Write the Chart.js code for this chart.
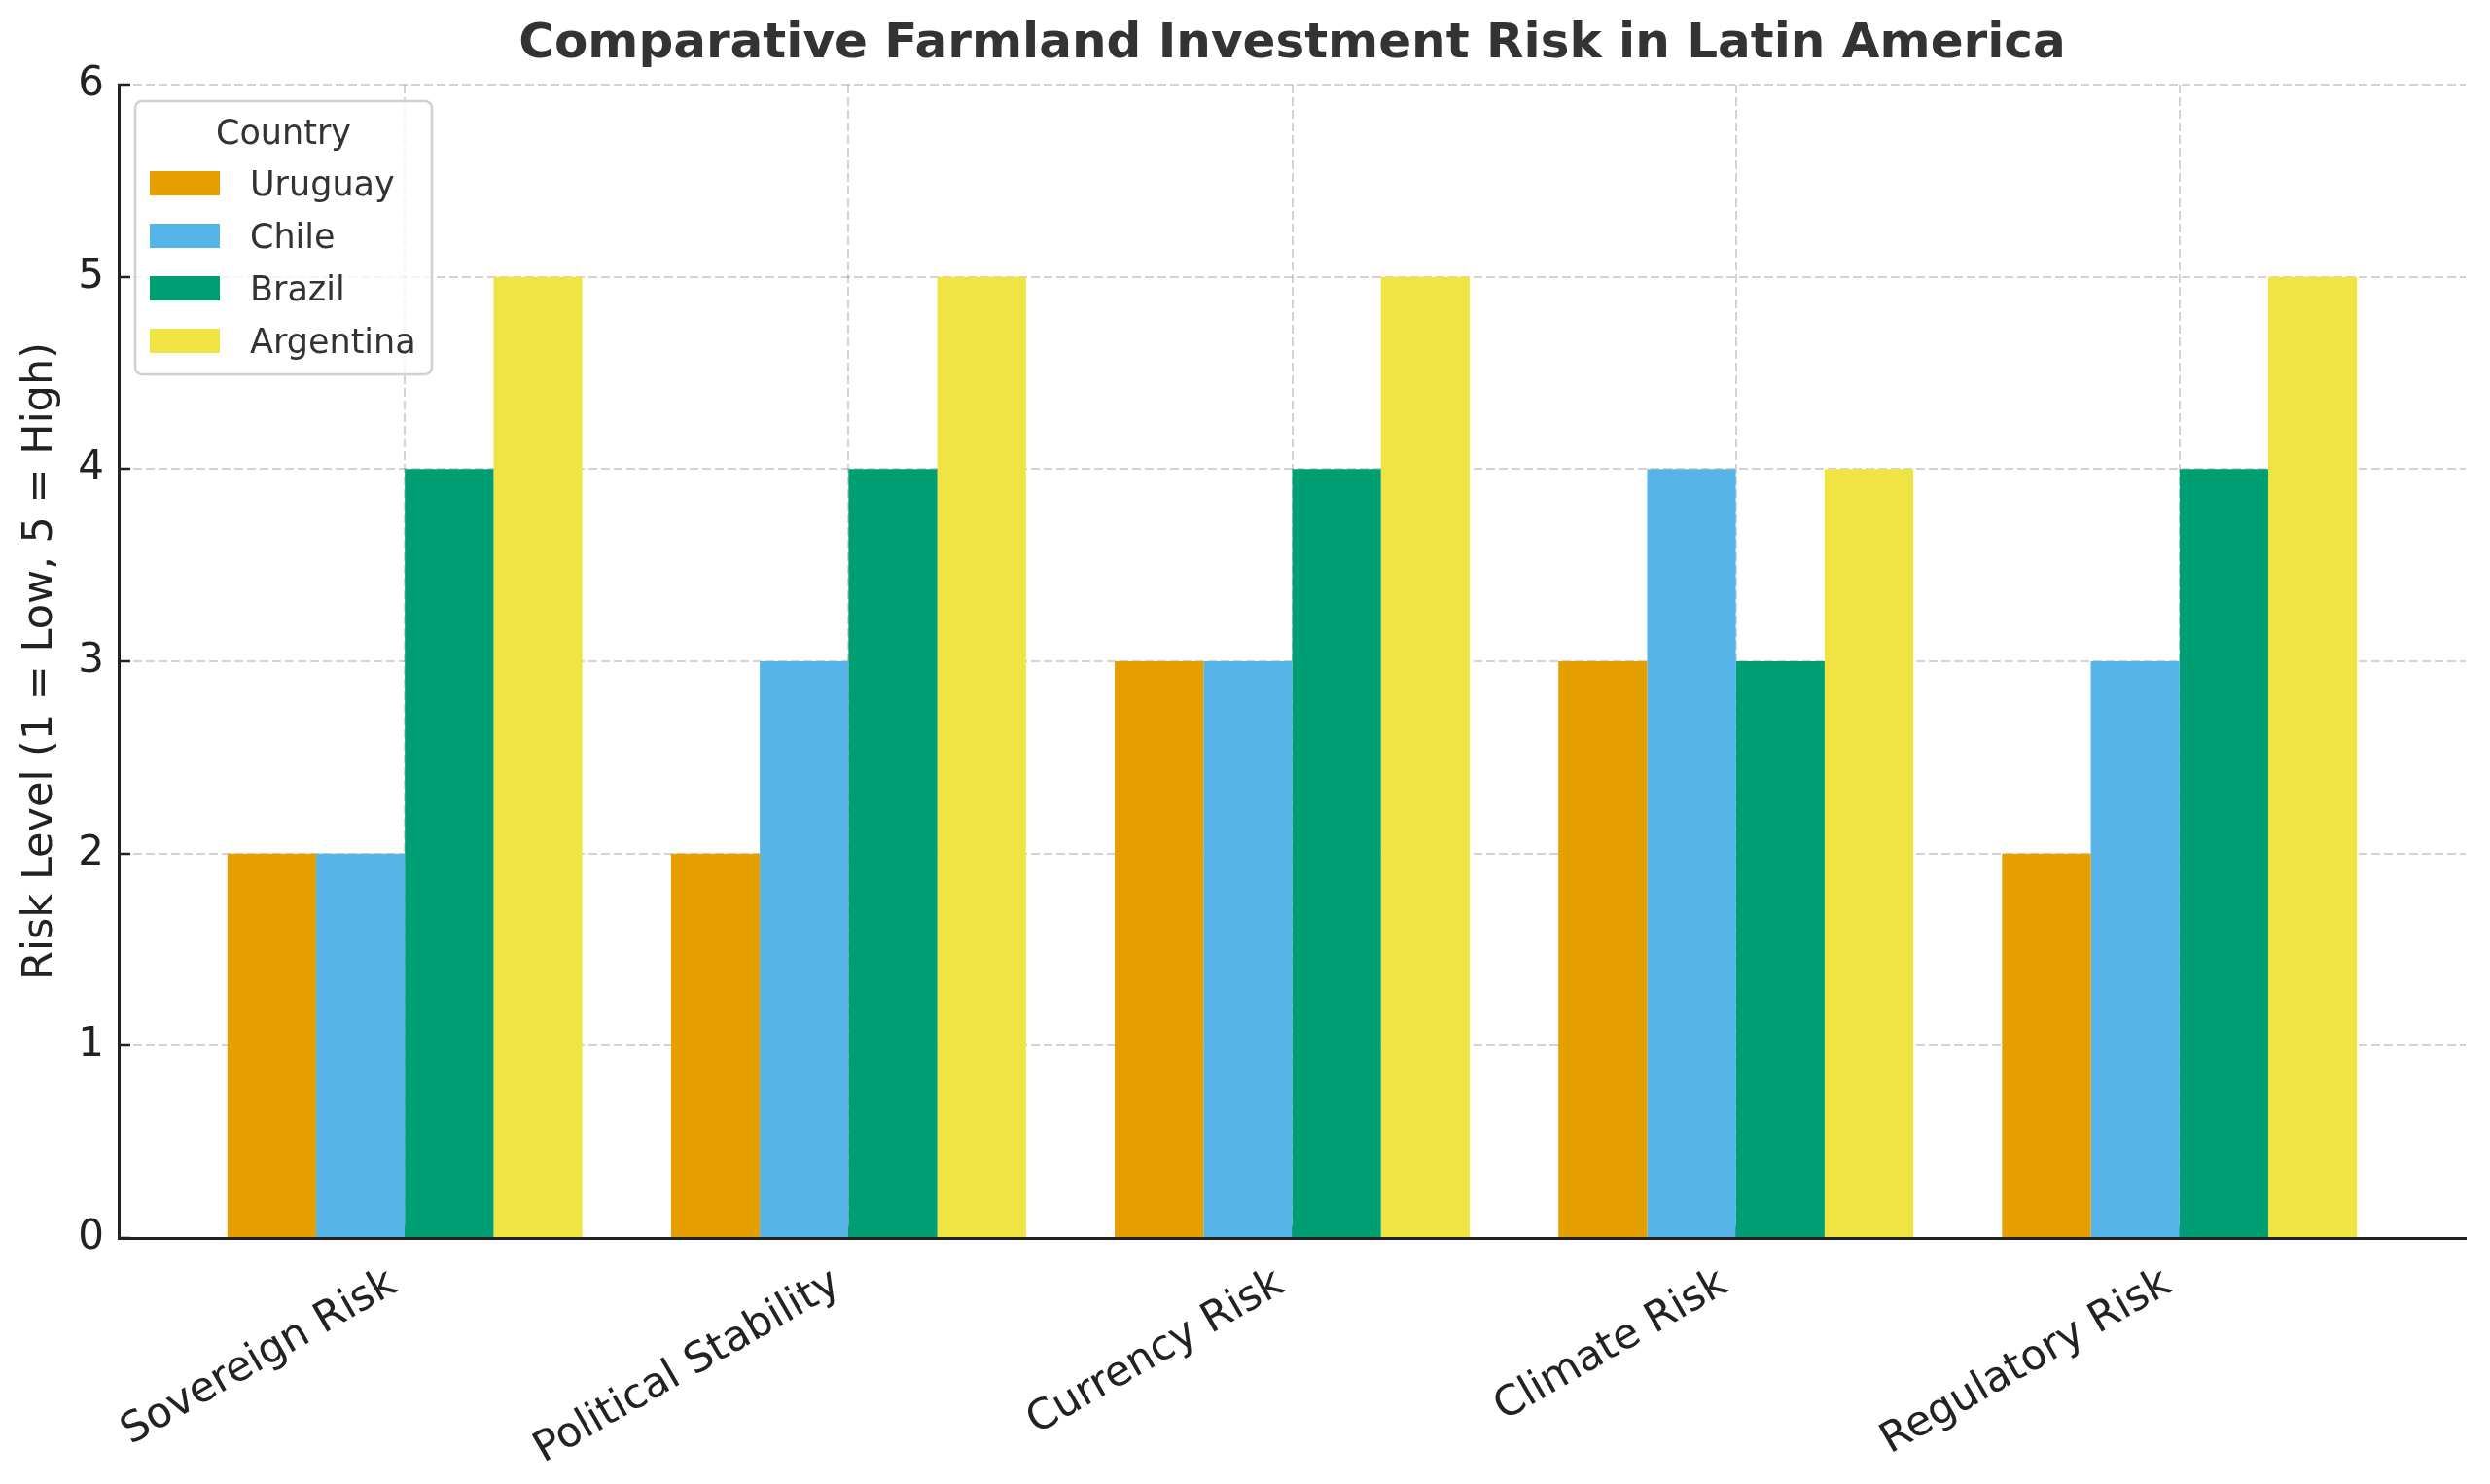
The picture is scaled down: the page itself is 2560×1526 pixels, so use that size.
<!DOCTYPE html>
<html>
<head>
<meta charset="utf-8">
<script src="https://cdn.jsdelivr.net/npm/chart.js@4.4.1/dist/chart.umd.min.js"></script>
<style>
  html, body { margin: 0; padding: 0; background: #fff; }
  canvas { display: block; }
</style>
</head>
<body>
<canvas id="riskChart" width="2560" height="1526"></canvas>
<script>
const categories = ["Sovereign Risk", "Political Stability", "Currency Risk", "Climate Risk", "Regulatory Risk"];
const countries = ["Uruguay", "Chile", "Brazil", "Argentina"];
const uruguay = [2, 2, 3, 3, 2];
const chile = [2, 3, 3, 4, 3];
const brazil = [4, 4, 4, 3, 4];
const argentina = [5, 5, 5, 4, 5];
const colors = ["#E69F00", "#56B4E9", "#009E73", "#F0E442"];
const yTicks = [0, 1, 2, 3, 4, 5, 6];

const FONT = "'DejaVu Sans', sans-serif";
const series = [uruguay, chile, brazil, argentina];

// matplotlib-like legend box sitting inside the plot, top left
const legendBox = {
  id: 'legendBox',
  afterDraw(chart) {
    const ctx = chart.ctx;
    const area = chart.chartArea;
    const x0 = area.left + 17, y0 = area.top + 17, w = 305, h = 281;
    ctx.save();
    ctx.beginPath();
    ctx.roundRect(x0, y0, w, h, 7);
    ctx.fillStyle = 'rgba(255,255,255,0.8)';
    ctx.fill();
    ctx.lineWidth = 2.5;
    ctx.strokeStyle = '#d0d0d0';
    ctx.stroke();

    ctx.fillStyle = '#333';
    ctx.font = "35px " + FONT;
    ctx.textAlign = 'center';
    ctx.textBaseline = 'alphabetic';
    ctx.fillText("Country", x0 + w / 2, y0 + 44);

    ctx.textAlign = 'left';
    chart.data.datasets.forEach((ds, i) => {
      const top = y0 + 72 + i * 54;
      ctx.fillStyle = ds.backgroundColor;
      ctx.fillRect(x0 + 15, top, 72, 25);
      ctx.fillStyle = '#333';
      ctx.fillText(ds.label, x0 + 118, top + 25);
    });
    ctx.restore();
  }
};

new Chart(document.getElementById('riskChart'), {
  type: 'bar',
  data: {
    datasets: countries.map((name, i) => ({
      label: name,
      data: series[i].map((v, j) => ({x: j, y: v})),
      backgroundColor: colors[i],
      borderWidth: 0,
      categoryPercentage: 0.8,
      barPercentage: 1.0
    }))
  },
  options: {
    responsive: false,
    animation: false,
    devicePixelRatio: 1,
    layout: { padding: {left: 0, right: 25, top: 0, bottom: 0}, autoPadding: false },
    plugins: {
      legend: { display: false },
      tooltip: { enabled: false },
      title: {
        display: true,
        text: "Comparative Farmland Investment Risk in Latin America",
        fullSize: false,
        color: '#333',
        font: { family: FONT, size: 50, weight: 'bold' },
        padding: { top: 16, bottom: 11 }
      }
    },
    scales: {
      x: {
        type: 'linear',
        min: -0.645,
        max: 4.645,
        offset: false,
        z: 1,
        afterBuildTicks: (s) => { s.ticks = categories.map((c, i) => ({value: i})); },
        afterFit: (s) => { s.height = 253; },
        ticks: {
          // trailing space nudges the rotated label like matplotlib's ha='right'
          callback: (v) => categories[v] + ' ',
          minRotation: 30,
          maxRotation: 30,
          autoSkip: false,
          color: '#222',
          padding: 27,
          font: { family: FONT, size: 43 }
        },
        grid: { offset: false, color: 'rgba(120,120,120,0.33)', lineWidth: 2, tickLength: -12, tickColor: '#222', tickWidth: 2.5, tickBorderDash: [] },
        border: { display: true, color: '#222', width: 3, dash: [9, 4] }
      },
      y: {
        type: 'linear',
        min: 0,
        max: 6,
        z: 1,
        afterBuildTicks: (s) => { s.ticks = yTicks.map(v => ({value: v})); },
        afterFit: (s) => { s.width = 122; },
        ticks: {
          color: '#222',
          padding: 27,
          font: { family: FONT, size: 42 }
        },
        title: {
          display: true,
          text: "Risk Level (1 = Low, 5 = High)",
          color: '#222',
          font: { family: FONT, size: 43 },
          padding: { top: 16, bottom: 0 }
        },
        grid: { color: 'rgba(120,120,120,0.33)', lineWidth: 2, tickLength: -12, tickColor: '#222', tickWidth: 2.5, tickBorderDash: [] },
        border: { display: true, color: '#222', width: 3, dash: [9, 4] }
      }
    }
  },
  plugins: [legendBox]
});
</script>
</body>
</html>
